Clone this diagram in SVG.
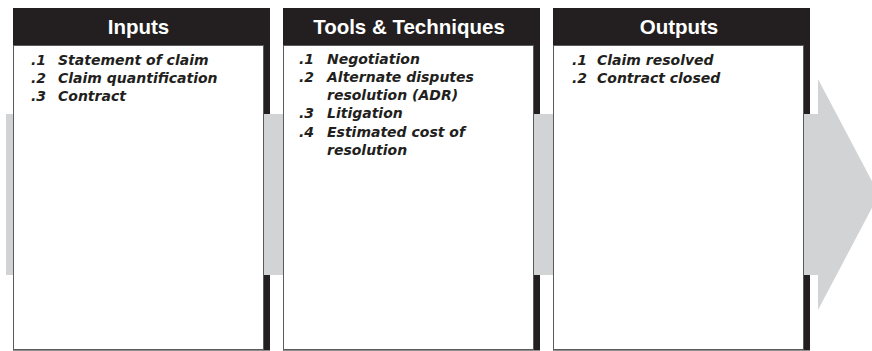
<svg xmlns="http://www.w3.org/2000/svg" width="872" height="351" viewBox="0 0 872 351">
<style>
.blk{fill:#231f20}
.box{fill:#ffffff;stroke:#5a5b5d;stroke-width:1}
.hdr{font-family:"Liberation Sans",Arial,sans-serif;font-weight:bold;font-size:20.5px;fill:#ffffff;text-anchor:middle}
.itm{font-family:"DejaVu Sans",sans-serif;font-weight:bold;font-style:italic;font-size:14px;fill:#231f20}
</style>
<rect width="872" height="351" fill="#ffffff"/>
<g id="connectors">
<polygon points="6,114 818,114 818,79 879,194.5 818,310 818,275 6,275" fill="#d1d3d4"/>
</g>
<g id="inputs">
<rect class="blk" x="13" y="8" width="257" height="106"/>
<rect class="blk" x="13" y="275" width="257" height="75.5"/>
<rect class="box" x="13.5" y="45.5" width="250" height="304"/>
<text class="hdr" x="138.5" y="34">Inputs</text>
<text class="itm"><tspan x="31" y="64.5">.1</tspan><tspan x="58" y="64.5">Statement of claim</tspan><tspan x="31" y="82.5">.2</tspan><tspan x="58" y="82.5">Claim quantification</tspan><tspan x="31" y="100.5">.3</tspan><tspan x="58" y="100.5">Contract</tspan></text>
</g>
<g id="tools">
<rect class="blk" x="283" y="8" width="257" height="106"/>
<rect class="blk" x="283" y="275" width="257" height="75.5"/>
<rect class="box" x="283.5" y="45.5" width="250" height="304"/>
<text class="hdr" x="409" y="34">Tools &amp; Techniques</text>
<text class="itm"><tspan x="299" y="64">.1</tspan><tspan x="327" y="64">Negotiation</tspan><tspan x="299" y="82">.2</tspan><tspan x="327" y="82">Alternate disputes</tspan><tspan x="327" y="100">resolution (ADR)</tspan><tspan x="299" y="118">.3</tspan><tspan x="327" y="118">Litigation</tspan><tspan x="299" y="136.5">.4</tspan><tspan x="327" y="136.5">Estimated cost of</tspan><tspan x="327" y="155">resolution</tspan></text>
</g>
<g id="outputs">
<rect class="blk" x="553" y="8" width="257" height="106"/>
<rect class="blk" x="553" y="275" width="257" height="75.5"/>
<rect class="box" x="553.5" y="45.5" width="250" height="304"/>
<text class="hdr" x="679" y="34">Outputs</text>
<text class="itm"><tspan x="572" y="64.5">.1</tspan><tspan x="597" y="64.5">Claim resolved</tspan><tspan x="572" y="82.5">.2</tspan><tspan x="597" y="82.5">Contract closed</tspan></text>
</g>
</svg>
